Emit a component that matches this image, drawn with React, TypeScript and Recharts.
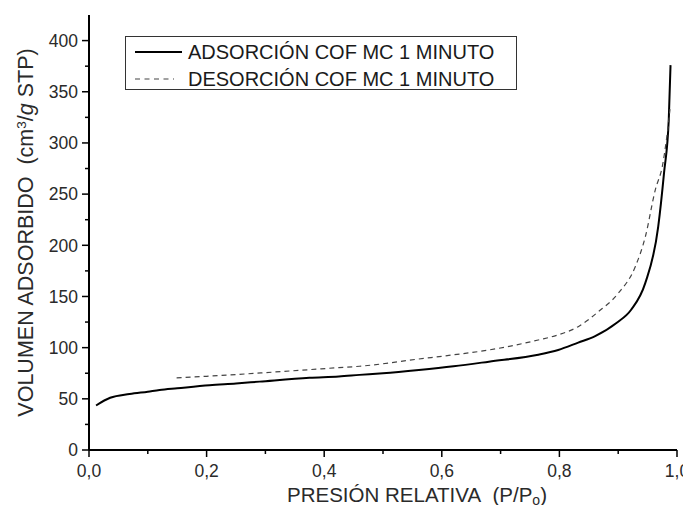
import React from 'react';
import { LineChart, Line, XAxis, YAxis, Legend } from 'recharts';

const FONT = '"Liberation Sans", Arial, sans-serif';

const adsorptionP = [0.012, 0.036, 0.069, 0.1, 0.12, 0.15, 0.205, 0.25, 0.29, 0.375, 0.425, 0.46, 0.5, 0.561, 0.62, 0.68, 0.764, 0.798, 0.832, 0.86, 0.897, 0.922, 0.946, 0.968, 0.978, 0.986, 0.989];
const adsorptionV = [43.5, 51, 54.7, 57, 58.6, 60.3, 63.3, 65, 66.8, 70.5, 71.9, 73.4, 75, 78.2, 81.8, 86.3, 93, 97.7, 104.9, 111, 124, 137, 163, 218, 271, 323, 376];

const desorptionP = [0.149, 0.2, 0.3, 0.375, 0.425, 0.46, 0.561, 0.62, 0.68, 0.764, 0.798, 0.832, 0.866, 0.9, 0.929, 0.946, 0.963, 0.976, 0.982, 0.986, 0.988];
const desorptionV = [70.5, 72, 75.6, 78.5, 80.5, 81.8, 88.9, 93, 97.7, 107.5, 112.5, 120.5, 135, 153, 179, 208, 254, 280, 303, 321, 333];

const xTicks = [0, 0.1, 0.2, 0.3, 0.4, 0.5, 0.6, 0.7, 0.8, 0.9, 1.0];
const yTicks = [0, 25, 50, 75, 100, 125, 150, 175, 200, 225, 250, 275, 300, 325, 350, 375, 400];

const seriesNames = ['ADSORCIÓN COF MC 1 MINUTO', 'DESORCIÓN COF MC 1 MINUTO'];

const adsorption = adsorptionP.map((p, i) => ({ p, v: adsorptionV[i] }));
const desorption = desorptionP.map((p, i) => ({ p, v: desorptionV[i] }));

const YTick = (props: any) => {
  const { x, y, payload } = props;
  const major = payload.value % 50 === 0;
  return (
    <g>
      <line x1={x} x2={x - (major ? 7 : 4)} y1={y} y2={y} stroke="#000" strokeWidth={1.5} />
      {major && (
        <text x={x - 11} y={y} dy="0.36em" textAnchor="end" fontSize={17.5} fill="#2a2a2a" fontFamily={FONT}>
          {payload.value}
        </text>
      )}
    </g>
  );
};

const XTick = (props: any) => {
  const { x, y, payload } = props;
  const major = Math.round(payload.value * 10) % 2 === 0;
  return (
    <g>
      <line x1={x} x2={x} y1={y} y2={y + (major ? 7 : 4)} stroke="#000" strokeWidth={1.5} />
      {major && (
        <text x={x} y={y + 27} textAnchor="middle" fontSize={17.5} fill="#2a2a2a" fontFamily={FONT}>
          {payload.value.toFixed(1).replace('.', ',')}
        </text>
      )}
    </g>
  );
};

const XTitle = (props: any) => {
  const vb = props.viewBox || { x: 89, y: 450, width: 588, height: 63 };
  const cx = vb.x + vb.width / 2 + 34;
  return (
    <text x={cx} y={vb.y + 52} textAnchor="middle" fontSize={20.5} fill="#2a2a2a" fontFamily={FONT} style={{ whiteSpace: 'pre' }}>
      {'PRESIÓN RELATIVA\u00A0\u00A0(P/P'}
      <tspan dy={3} fontSize={14}>o</tspan>
      <tspan dy={-3}>)</tspan>
    </text>
  );
};

const YTitle = (props: any) => {
  const vb = props.viewBox || { x: 0, y: 15, width: 89, height: 435 };
  const cy = vb.y + vb.height / 2;
  const cx = 33;
  return (
    <text x={cx} y={cy} transform={`rotate(-90 ${cx} ${cy})`} textAnchor="middle" fontSize={21.5} fill="#2a2a2a" fontFamily={FONT} style={{ whiteSpace: 'pre' }}>
      {'VOLUMEN ADSORBIDO\u00A0\u00A0(cm'}
      <tspan dy={-7} fontSize={13.5}>3</tspan>
      <tspan dy={7}>/</tspan>
      <tspan fontStyle="italic">g</tspan>
      {' STP)'}
    </text>
  );
};

const LegendBox = (props: any) => {
  const payload = props.payload || [];
  return (
    <div style={{ width: 390, height: 52, border: '1px solid #333', background: '#fff', position: 'relative' }}>
      <svg width={390} height={52} style={{ position: 'absolute', left: 0, top: 0 }}>
        {payload.map((item: any, i: number) => {
          const cy = 15 + i * 27;
          const dashed = !!(item.payload && item.payload.strokeDasharray);
          return (
            <g key={i}>
              <line x1={9} x2={dashed ? 48 : 56} y1={cy} y2={cy} stroke={item.color} strokeWidth={dashed ? 1.2 : 2} strokeDasharray={dashed ? '5 4.5' : undefined} />
              <text x={62} y={cy} dy="0.36em" fontSize={20} fill="#1a1a1a" fontFamily={FONT}>
                {item.value}
              </text>
            </g>
          );
        })}
      </svg>
    </div>
  );
};

export default function App() {
  return (
    <div style={{ margin: -8 }}>
      <LineChart width={691} height={513} margin={{ top: 15, right: 14, bottom: 0, left: 0 }} style={{ fontFamily: FONT }}>
        <XAxis
          type="number"
          dataKey="p"
          domain={[0, 1]}
          ticks={xTicks}
          interval={0}
          tick={<XTick />}
          tickLine={false}
          tickSize={0}
          tickMargin={0}
          height={63}
          axisLine={{ stroke: '#000', strokeWidth: 2 }}
          allowDuplicatedCategory={false}
          label={<XTitle />}
        />
        <YAxis
          type="number"
          dataKey="v"
          domain={[0, 425]}
          ticks={yTicks}
          interval={0}
          tick={<YTick />}
          tickLine={false}
          tickSize={0}
          tickMargin={0}
          width={89}
          axisLine={{ stroke: '#000', strokeWidth: 2 }}
          label={<YTitle />}
        />
        <Legend
          layout="vertical"
          align="center"
          verticalAlign="middle"
          wrapperStyle={{ left: 125, top: 36, width: 392 }}
          content={<LegendBox />}
        />
        <Line
          data={adsorption}
          dataKey="v"
          name={seriesNames[0]}
          type="monotone"
          stroke="#000"
          strokeWidth={2}
          dot={false}
          isAnimationActive={false}
        />
        <Line
          data={desorption}
          dataKey="v"
          name={seriesNames[1]}
          type="monotone"
          stroke="#444"
          strokeWidth={1.2}
          strokeDasharray="5 4"
          dot={false}
          isAnimationActive={false}
        />
      </LineChart>
    </div>
  );
}
